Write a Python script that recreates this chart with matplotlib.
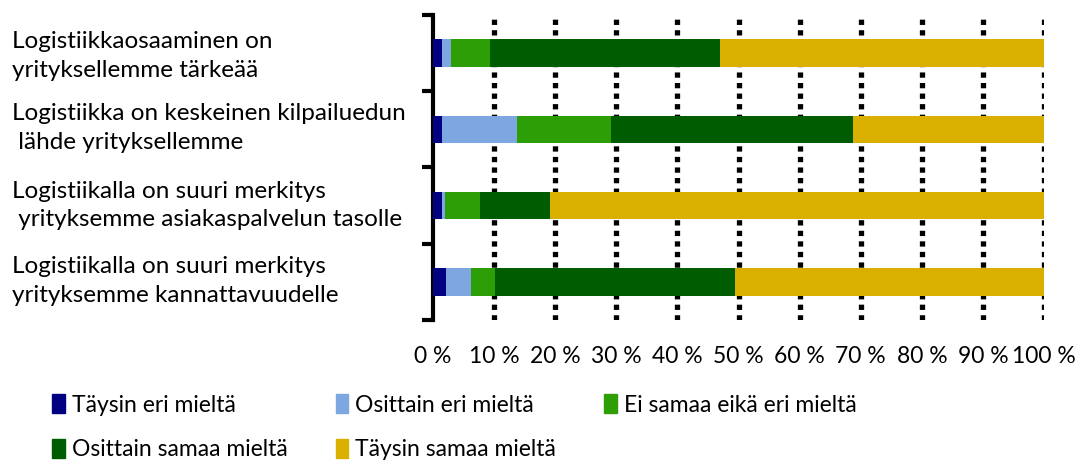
import numpy as np
import matplotlib.pyplot as plt
from matplotlib.patches import Patch
import matplotlib.transforms as mtransforms

plt.rcParams['font.family'] = ['Lato', 'DejaVu Sans']

# === Data (percent of respondents) ===
categories = [
    "Logistiikkaosaaminen on\nyrityksellemme tärkeää",
    "Logistiikka on keskeinen kilpailuedun\n lähde yrityksellemme",
    "Logistiikalla on suuri merkitys\n yrityksemme asiakaspalvelun tasolle",
    "Logistiikalla on suuri merkitys\nyrityksemme kannattavuudelle",
]
series_names = [
    "Täysin eri mieltä",
    "Osittain eri mieltä",
    "Ei samaa eikä eri mieltä",
    "Osittain samaa mieltä",
    "Täysin samaa mieltä",
]
taysin_eri = [1.5, 1.5, 1.5, 2.2]
osittain_eri = [1.4, 12.3, 0.5, 4.0]
ei_samaa_eika_eri = [6.5, 15.4, 5.7, 4.0]
osittain_samaa = [37.6, 39.5, 11.5, 39.2]
taysin_samaa = [53.0, 31.3, 80.8, 50.6]
xticks = list(range(0, 101, 10))

colors = ["#000080", "#7EA6E0", "#2E9E06", "#005C00", "#D9B000"]

values = [taysin_eri, osittain_eri, ei_samaa_eika_eri, osittain_samaa, taysin_samaa]

fig = plt.figure(figsize=(10.81, 4.62), dpi=100)
ax = fig.add_axes([0.4006, 0.3074, 0.5652, 0.6601])

y = np.arange(len(categories))
left = np.zeros(len(categories))
for vals, c, name in zip(values, colors, series_names):
    vals = np.array(vals)
    ax.barh(y, vals, left=left, height=0.36, color=c, label=name, zorder=3)
    left += vals

ax.set_xlim(0, 100)
ax.set_ylim(len(categories) - 0.5, -0.5)

# dotted vertical gridlines
for xv in xticks[1:]:
    ax.axvline(xv, color="black", linestyle=(0, (1, 1)), linewidth=3.8, zorder=1)

ax.set_xticks(xticks)
ax.set_xticklabels([f"{v} %" for v in xticks], fontsize=16.5)
ax.tick_params(axis="x", length=0, pad=19)

# category boundary ticks on y axis
ax.set_yticks(np.arange(-0.5, len(categories), 1.0))
ax.set_yticklabels([])
ax.tick_params(axis="y", length=8, width=3, color="black")

for s in ["top", "right", "bottom"]:
    ax.spines[s].set_visible(False)
ax.spines["left"].set_linewidth(3)

trans = mtransforms.blended_transform_factory(fig.transFigure, ax.transData)
label_shift = [0.04, -0.02, 0.0, -0.01]
for yi, lab, dy in zip(y, categories, label_shift):
    ax.text(0.011, yi + dy, lab, transform=trans, ha="left", va="center",
            fontsize=17.5, linespacing=1.45)

# legend, row-first order like the original
handles = [Patch(color=c, label=n) for c, n in zip(colors, series_names)]
order = [0, 3, 1, 4, 2]
fig.legend([handles[i] for i in order], [series_names[i] for i in order],
           ncol=3, loc="upper left", bbox_to_anchor=(0.04, 0.166),
           frameon=False, fontsize=16.5, handlelength=0.55, handleheight=0.9,
           handletextpad=0.3, columnspacing=2.1, labelspacing=1.0,
           borderaxespad=0)

fig.savefig("out.png", dpi=100)
